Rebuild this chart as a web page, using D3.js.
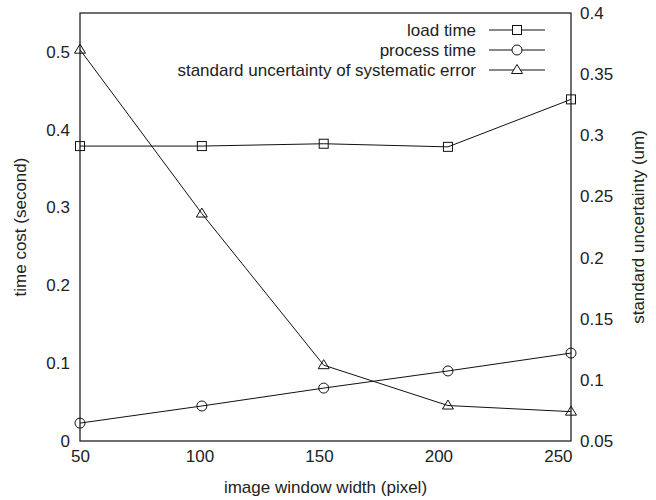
<!DOCTYPE html>
<html>
<head>
<meta charset="utf-8">
<title>time cost vs window width</title>
<script src="https://d3js.org/d3.v7.min.js"></script>
<style>
body { margin: 0; background: #fff; }
svg { font-family: "Liberation Sans", Arial, sans-serif; }
text { fill: #222; font-size: 17px; }
</style>
</head>
<body>
<div id="chart"></div>
<script>
// data
var widths = [50, 101, 152, 204, 255.5];
var loadTime = [0.379, 0.379, 0.382, 0.378, 0.439];
var processTime = [0.023, 0.045, 0.068, 0.090, 0.113];
var uncertainty = [0.370, 0.236, 0.112, 0.079, 0.074];

var xTicks = [50, 100, 150, 200, 250];
var yLeftTicks = [0, 0.1, 0.2, 0.3, 0.4, 0.5];
var yRightTicks = [0.05, 0.1, 0.15, 0.2, 0.25, 0.3, 0.35, 0.4];

var width = 656, height = 500;
var m = {top: 13, right: 85, bottom: 59, left: 80};

var svg = d3.select("#chart").append("svg")
    .attr("width", width).attr("height", height);

var x = d3.scaleLinear().domain([50, 255.5]).range([m.left, width - m.right]);
var yL = d3.scaleLinear().domain([0, 0.55]).range([height - m.bottom, m.top]);
var yR = d3.scaleLinear().domain([0.05, 0.4]).range([height - m.bottom, m.top]);

/* axes, no tick marks, just labels */
svg.append("g")
    .attr("transform", "translate(0," + (height - m.bottom) + ")")
    .call(d3.axisBottom(x).tickValues(xTicks).tickSize(0).tickPadding(9).tickFormat(d3.format("d")))
    .call(function(g) { g.select(".domain").remove(); });

svg.append("g")
    .attr("transform", "translate(" + m.left + ",0)")
    .call(d3.axisLeft(yL).tickValues(yLeftTicks).tickSize(0).tickPadding(10).tickFormat(function(d) { return d === 0 ? "0" : d3.format(".1f")(d); }))
    .call(function(g) { g.select(".domain").remove(); });

svg.append("g")
    .attr("transform", "translate(" + (width - m.right) + ",0)")
    .call(d3.axisRight(yR).tickValues(yRightTicks).tickSize(0).tickPadding(9).tickFormat(function(d) { return String(d); }))
    .call(function(g) { g.select(".domain").remove(); });

svg.selectAll(".tick text").style("font-size", "17px").attr("fill", "#222");

// frame
svg.append("rect")
    .attr("x", m.left).attr("y", m.top)
    .attr("width", width - m.left - m.right)
    .attr("height", height - m.top - m.bottom)
    .attr("fill", "none").attr("stroke", "#222").attr("stroke-width", 1.3);

// axis titles
svg.append("text")
    .attr("x", (m.left + width - m.right) / 2).attr("y", 493)
    .attr("text-anchor", "middle")
    .text("image window width (pixel)");

svg.append("text")
    .attr("transform", "translate(26," + ((m.top + height - m.bottom) / 2) + ") rotate(-90)")
    .attr("text-anchor", "middle")
    .text("time cost (second)");

svg.append("text")
    .attr("transform", "translate(644," + ((m.top + height - m.bottom) / 2) + ") rotate(-90)")
    .attr("text-anchor", "middle")
    .text("standard uncertainty (um)");

// marker drawing
function marker(g, kind, cx, cy) {
    if (kind === "square") {
        g.append("rect").attr("x", cx - 4.5).attr("y", cy - 4.5)
            .attr("width", 9).attr("height", 9);
    } else if (kind === "circle") {
        g.append("circle").attr("cx", cx).attr("cy", cy).attr("r", 5);
    } else {
        g.append("path").attr("d", "M" + cx + "," + (cy - 5.5) + "L" + (cx + 5.5) + "," + (cy + 3.5) + "L" + (cx - 5.5) + "," + (cy + 3.5) + "Z");
    }
}

var series = [
    {name: "load time", values: loadTime, y: yL, kind: "square"},
    {name: "process time", values: processTime, y: yL, kind: "circle"},
    {name: "standard uncertainty of systematic error", values: uncertainty, y: yR, kind: "triangle"}
];

series.forEach(function(s) {
    var line = d3.line()
        .x(function(d, i) { return x(widths[i]); })
        .y(function(d) { return s.y(d); });
    svg.append("path").datum(s.values)
        .attr("d", line)
        .attr("fill", "none").attr("stroke", "#111").attr("stroke-width", 1);
    var g = svg.append("g").attr("fill", "none").attr("stroke", "#111").attr("stroke-width", 1);
    s.values.forEach(function(v, i) { marker(g, s.kind, x(widths[i]), s.y(v)); });
});

// legend
var lg = svg.append("g");
series.forEach(function(s, i) {
    var yy = 30 + i * 20;
    lg.append("text").attr("x", 476).attr("y", yy + 6)
        .attr("text-anchor", "end").text(s.name);
    lg.append("line").attr("x1", 489).attr("x2", 545).attr("y1", yy).attr("y2", yy)
        .attr("stroke", "#111").attr("stroke-width", 1);
    var g = lg.append("g").attr("fill", "#fff").attr("stroke", "#111").attr("stroke-width", 1);
    marker(g, s.kind, 517, yy);
});
</script>
</body>
</html>
